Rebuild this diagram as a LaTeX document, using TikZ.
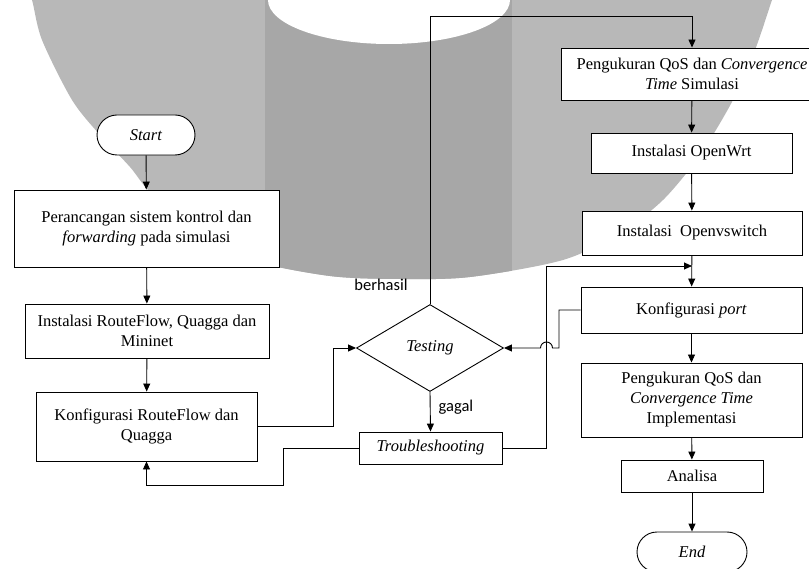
\documentclass[tikz,border=0pt]{standalone}
\usepackage{fontspec}
\setmainfont{Liberation Serif}
\newfontfamily\lblfont{Carlito}
\usetikzlibrary{arrows.meta,shapes.geometric,shapes.misc}
\definecolor{wmlight}{RGB}{184,184,184}
\definecolor{wmdark}{RGB}{167,167,167}
\tikzset{
  box/.style={draw, line width=0.9pt, fill=white, align=center, inner sep=0pt,
    font=\fontsize{16.5}{20}\selectfont},
  term/.style={box, rounded rectangle},
  decide/.style={box, diamond, aspect=1.69},
  arr/.style={line width=0.9pt, -{Triangle[length=8pt,width=7pt]}},
  ln/.style={line width=0.9pt},
  lbl/.style={font=\lblfont\fontsize{16.5}{20}\selectfont, inner sep=0pt}
}
\begin{document}
\begin{tikzpicture}[x=1pt,y=-1pt]
\useasboundingbox (0,0) rectangle (809,569);
\clip (0,0) rectangle (809,569);
% watermark
\fill[wmlight] plot[smooth] coordinates {(26,-10) (32,0) (42,40) (72,100) (100,135) (130,167) (150,192) (195,232) (250,260) (330,276) (400,279) (470,277) (563,260) (620,233) (663,200) (700,155) (733,100) (755,50) (772,0) (776,-10)} -- cycle;
\begin{scope}
\clip plot[smooth] coordinates {(26,-10) (32,0) (42,40) (72,100) (100,135) (130,167) (150,192) (195,232) (250,260) (330,276) (400,279) (470,277) (563,260) (620,233) (663,200) (700,155) (733,100) (755,50) (772,0) (776,-10)} -- cycle;
\fill[wmdark] (265,-10) rectangle (512,300);
\end{scope}
\fill[white] (268,0) arc[start angle=180, end angle=360, x radius=121pt, y radius=44pt] -- cycle;
\fill[white] (268,-10) rectangle (510,0);
% nodes
\node[term, minimum width=98pt, minimum height=40pt] (start) at (146,135) {\textit{Start}};
\node[box, minimum width=265pt, minimum height=77pt] (b1) at (146.5,228.5) {Perancangan sistem kontrol dan\\\textit{forwarding} pada simulasi};
\node[box, minimum width=244pt, minimum height=54pt] (b2) at (147,331) {Instalasi RouteFlow, Quagga dan\\Mininet};
\node[box, minimum width=221pt, minimum height=69pt] (b3) at (146.5,426.5) {Konfigurasi RouteFlow dan\\Quagga};
\node[decide, minimum width=147pt, minimum height=87pt] (test) at (430,348) {\textit{Testing}};
\node[box, minimum width=143pt, minimum height=32pt] (trb) at (430.5,448) {\textit{Troubleshooting}};
\node[box, minimum width=262pt, minimum height=52pt] (sim) at (692,74) {Pengukuran QoS dan \textit{Convergence}\\\textit{Time} Simulasi};
\node[box, minimum width=201pt, minimum height=40pt] (wrt) at (691.5,153) {Instalasi OpenWrt};
\node[box, minimum width=220pt, minimum height=44pt] (ovs) at (692,233) {Instalasi~ Openvswitch};
\node[box, minimum width=221pt, minimum height=46pt] (port) at (691.5,310) {Konfigurasi \textit{port}};
\node[box, minimum width=221pt, minimum height=74pt] (impl) at (691.5,400) {Pengukuran QoS dan\\\textit{Convergence Time}\\Implementasi};
\node[box, minimum width=142pt, minimum height=32pt] (ana) at (692,476) {Analisa};
\node[term, minimum width=110pt, minimum height=40pt] (end) at (692,552) {\textit{End}};
\node[lbl] (berhasil) at (381,285) {berhasil};
\node[lbl] (gagal) at (456,407) {gagal};
% coordinates
\coordinate (topline) at (430,16);
\coordinate (lb) at (283,485);
\coordinate (rb) at (546.5,266);
\coordinate (mj) at (692,266);
\coordinate (pb) at (559,348);
% connectors
\draw[arr] (start) -- (b1);
\draw[arr] (b1) -- (b2);
\draw[arr] (b2) -- (b3);
\draw[arr] (b3.east) -- ++(76,0) |- (test.west);
\draw[arr] (test.south) -- (trb.north);
\draw[arr] (test.north) -- (test.north |- topline) -| (sim.north);
\draw[arr] (trb.west) -| (lb) -| (b3.south);
\draw[arr] (trb.east) -| (rb) -- (mj);
\draw[arr] (port.west) -| (pb) -- (552.5,348) arc[start angle=0, end angle=180, radius=6pt] -- (test.east);
\draw[arr] (sim) -- (wrt);
\draw[arr] (wrt) -- (ovs);
\draw[arr] (ovs) -- (port);
\draw[arr] (port) -- (impl);
\draw[arr] (impl) -- (ana);
\draw[arr] (ana) -- (end);
\end{tikzpicture}
\end{document}
